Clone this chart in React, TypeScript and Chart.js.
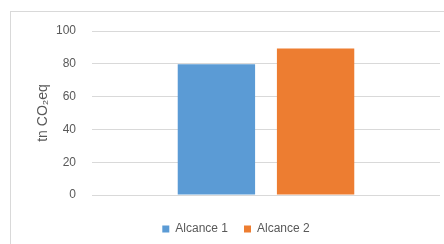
import React, { useEffect, useRef } from "react";
import { Chart, registerables } from "chart.js";

Chart.register(...registerables);

const categories = [""];
const seriesNames = ["Alcance 1", "Alcance 2"];
const alcance1 = [79.8];
const alcance2 = [89.4];
const yTicks = [0, 20, 40, 60, 80, 100];
const yTitle = "tn CO₂eq";

const FONT = "'Liberation Sans', Arial, sans-serif";

const legendShift = {
  id: "legendShift",
  afterLayout(chart: any) {
    const lg = chart.legend;
    if (lg) {
      lg.left += 16;
      lg.right += 16;
    }
  },
};

export default function App() {
  const ref = useRef<HTMLCanvasElement | null>(null);

  useEffect(() => {
    const canvas = ref.current;
    if (!canvas) return;
    const chart = new Chart(canvas, {
      type: "bar",
      data: {
        labels: categories,
        datasets: [
          {
            label: seriesNames[0],
            data: alcance1,
            backgroundColor: "#5B9BD5",
            categoryPercentage: 0.57,
            barPercentage: 0.78,
          },
          {
            label: seriesNames[1],
            data: alcance2,
            backgroundColor: "#ED7D31",
            categoryPercentage: 0.57,
            barPercentage: 0.78,
          },
        ],
      },
      plugins: [legendShift],
      options: {
        responsive: false,
        animation: false,
        layout: { padding: { left: 0, top: 31, right: 4, bottom: -1 } },
        plugins: {
          tooltip: { enabled: false },
          legend: {
            position: "bottom",
            labels: {
              boxWidth: 7,
              boxHeight: 7,
              padding: 16,
              color: "#595959",
              font: { family: FONT, size: 12 },
            },
          },
        },
        scales: {
          x: {
            display: true,
            grid: { display: false },
            border: { display: false },
            ticks: { display: false },
            afterFit: (scale: any) => {
              scale.height = 12;
            },
          },
          y: {
            min: 0,
            max: 100,
            afterBuildTicks: (scale: any) => {
              scale.ticks = yTicks.map((v) => ({ value: v }));
            },
            afterFit: (scale: any) => {
              scale.width = 92;
            },
            grid: { color: "#D9D9D9", drawTicks: false, lineWidth: 1 },
            border: { display: false },
            ticks: {
              padding: 16,
              color: "#595959",
              font: { family: FONT, size: 12 },
            },
            title: {
              display: true,
              text: yTitle,
              color: "#595959",
              padding: { top: 35, bottom: 0 },
              font: { family: FONT, size: 14, weight: "normal" },
            },
          },
        },
      },
    });
    return () => chart.destroy();
  }, []);

  return (
    <div
      style={{
        position: "fixed",
        left: 0,
        top: 0,
        width: 444,
        height: 244,
        background: "#ffffff",
        overflow: "hidden",
      }}
    >
      <div
        style={{
          position: "absolute",
          left: 10,
          top: 11,
          width: 460,
          height: 260,
          borderLeft: "1px solid #D9D9D9",
          borderTop: "1px solid #D9D9D9",
          boxSizing: "border-box",
        }}
      />
      <canvas
        ref={ref}
        width={444}
        height={244}
        style={{ position: "absolute", left: 0, top: 0, width: 444, height: 244 }}
      />
    </div>
  );
}
